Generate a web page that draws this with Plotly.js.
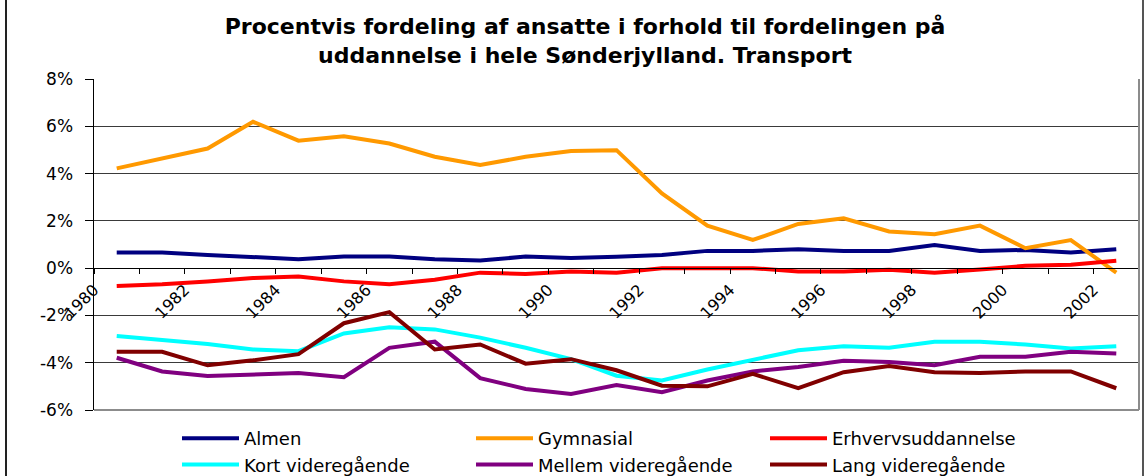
<!DOCTYPE html>
<html>
<head>
<meta charset="utf-8">
<script src="https://cdn.plot.ly/plotly-3.0.1.min.js"></script>
<style>
  html, body { margin: 0; padding: 0; background: #ffffff; }
  #chart { width: 1148px; height: 476px; }
</style>
</head>
<body>
<div id="chart"></div>
<script>
// ---- Data (percent) ----
const years = [1980, 1981, 1982, 1983, 1984, 1985, 1986, 1987, 1988, 1989, 1990, 1991,
               1992, 1993, 1994, 1995, 1996, 1997, 1998, 1999, 2000, 2001, 2002];
const almen      = [0.66, 0.66, 0.56, 0.45, 0.38, 0.49, 0.49, 0.38, 0.32, 0.49, 0.43, 0.48,
                    0.56, 0.73, 0.73, 0.80, 0.73, 0.73, 0.98, 0.73, 0.77, 0.66, 0.80];
const gymnasial  = [4.22, 4.64, 5.06, 6.19, 5.39, 5.58, 5.27, 4.71, 4.36, 4.71, 4.95, 4.99,
                    3.16, 1.80, 1.19, 1.87, 2.11, 1.55, 1.43, 1.80, 0.84, 1.19, -0.19];
const erhverv    = [-0.75, -0.68, -0.56, -0.42, -0.35, -0.56, -0.68, -0.49, -0.19, -0.25, -0.14, -0.19,
                    0.00, 0.00, 0.00, -0.14, -0.14, -0.07, -0.19, -0.06, 0.10, 0.14, 0.31];
const kort       = [-2.87, -3.04, -3.21, -3.44, -3.51, -2.76, -2.50, -2.59, -2.94, -3.37, -3.85, -4.55,
                    -4.75, -4.29, -3.87, -3.47, -3.30, -3.37, -3.11, -3.11, -3.23, -3.40, -3.30];
const mellem     = [-3.79, -4.37, -4.56, -4.51, -4.44, -4.61, -3.37, -3.11, -4.65, -5.11, -5.32, -4.94,
                    -5.25, -4.75, -4.37, -4.18, -3.92, -3.97, -4.11, -3.75, -3.75, -3.54, -3.61];
const lang       = [-3.54, -3.54, -4.11, -3.90, -3.64, -2.33, -1.86, -3.44, -3.23, -4.04, -3.85, -4.32,
                    -4.97, -5.00, -4.47, -5.08, -4.40, -4.14, -4.40, -4.44, -4.37, -4.37, -5.08];
const seriesNames = ['Almen', 'Gymnasial', 'Erhvervsuddannelse',
                     'Kort videregående', 'Mellem videregående', 'Lang videregående'];
const yTickVals = [-6, -4, -2, 0, 2, 4, 6, 8];

// ---- Styling ----
const colors = ['#000080', '#FF9900', '#FF0000', '#00FFFF', '#800080', '#800000'];
const seriesData = [almen, gymnasial, erhverv, kort, mellem, lang];
const FONT = 'DejaVu Sans, Liberation Sans, Arial, sans-serif';

const W = 1148, H = 476;
const M = { l: 94, r: 9, t: 79, b: 66 };
const pw = W - M.l - M.r, ph = H - M.t - M.b;
const px2x = p => (p - M.l) / pw;
const px2y = p => (H - M.b - p) / ph;

const traces = seriesData.map((vals, i) => ({
  type: 'scatter',
  mode: 'lines',
  name: seriesNames[i],
  x: years,
  y: vals,
  line: { color: colors[i], width: 4 },
  hoverinfo: 'x+y+name'
}));

// tick marks on category boundaries, label every 2nd year (Excel style)
const tickVals = years.map(y => y - 0.5).concat([years[years.length - 1] + 0.5]);
const tickText = years.map((y, i) => (i % 2 === 0 ? String(y) : '')).concat(['']);

const layout = {
  width: W,
  height: H,
  margin: M,
  paper_bgcolor: '#ffffff',
  plot_bgcolor: '#ffffff',
  font: { family: FONT, color: '#000000' },
  title: {
    text: 'Procentvis fordeling af ansatte i forhold til fordelingen på<br>uddannelse i hele Sønderjylland. Transport',
    font: { family: FONT, size: 22, weight: 'bold', color: '#000000' },
    x: 585 / W,
    xref: 'container',
    xanchor: 'center',
    y: 1 - 34 / H,
    yref: 'container',
    yanchor: 'top'
  },
  xaxis: {
    type: 'linear',
    range: [years[0] - 0.5, years[years.length - 1] + 0.5],
    tickmode: 'array',
    tickvals: tickVals,
    ticktext: tickText,
    tickangle: -45,
    ticks: 'outside',
    ticklen: 5,
    tickcolor: '#000000',
    tickfont: { family: FONT, size: 16, color: '#000000' },
    showgrid: false,
    zeroline: false,
    showline: true,
    linecolor: '#000000',
    linewidth: 1,
    anchor: 'free',
    position: 6 / 14,
    fixedrange: true
  },
  yaxis: {
    range: [-6, 8],
    tickmode: 'array',
    tickvals: yTickVals,
    ticktext: yTickVals.map(v => v + '%'),
    ticks: 'outside',
    ticklen: 8,
    tickcolor: '#000000',
    ticklabelstandoff: 8,
    tickfont: { family: FONT, size: 17, color: '#000000' },
    showgrid: true,
    gridcolor: '#3a3a3a',
    gridwidth: 1,
    zeroline: false,
    showline: true,
    linecolor: '#000000',
    linewidth: 1.5,
    fixedrange: true
  },
  showlegend: true,
  legend: {
    orientation: 'h',
    xref: 'container',
    yref: 'container',
    x: 177 / W,
    xanchor: 'left',
    y: 1 - 420 / H,
    yanchor: 'top',
    entrywidth: 222,
    entrywidthmode: 'pixels',
    itemwidth: 57,
    font: { family: FONT, size: 18, color: '#000000' },
    bgcolor: 'rgba(0,0,0,0)',
    traceorder: 'normal'
  },
  shapes: [
    // plot area right & bottom frame (gray)
    { type: 'line', xref: 'paper', yref: 'paper', x0: 1, x1: 1, y0: 0, y1: 1,
      line: { color: '#8c8c8c', width: 2 } },
    { type: 'line', xref: 'paper', yref: 'paper', x0: 0, x1: 1, y0: 0, y1: 0,
      line: { color: '#8c8c8c', width: 2 } },
    // outer chart border (left and right)
    { type: 'line', xref: 'paper', yref: 'paper', x0: px2x(6), x1: px2x(6), y0: px2y(0), y1: px2y(H),
      line: { color: '#222222', width: 2 } },
    { type: 'line', xref: 'paper', yref: 'paper', x0: px2x(1143), x1: px2x(1143), y0: px2y(0), y1: px2y(H),
      line: { color: '#555555', width: 2 } }
  ]
};

Plotly.newPlot('chart', traces, layout, { displayModeBar: false, staticPlot: true });
</script>
</body>
</html>
